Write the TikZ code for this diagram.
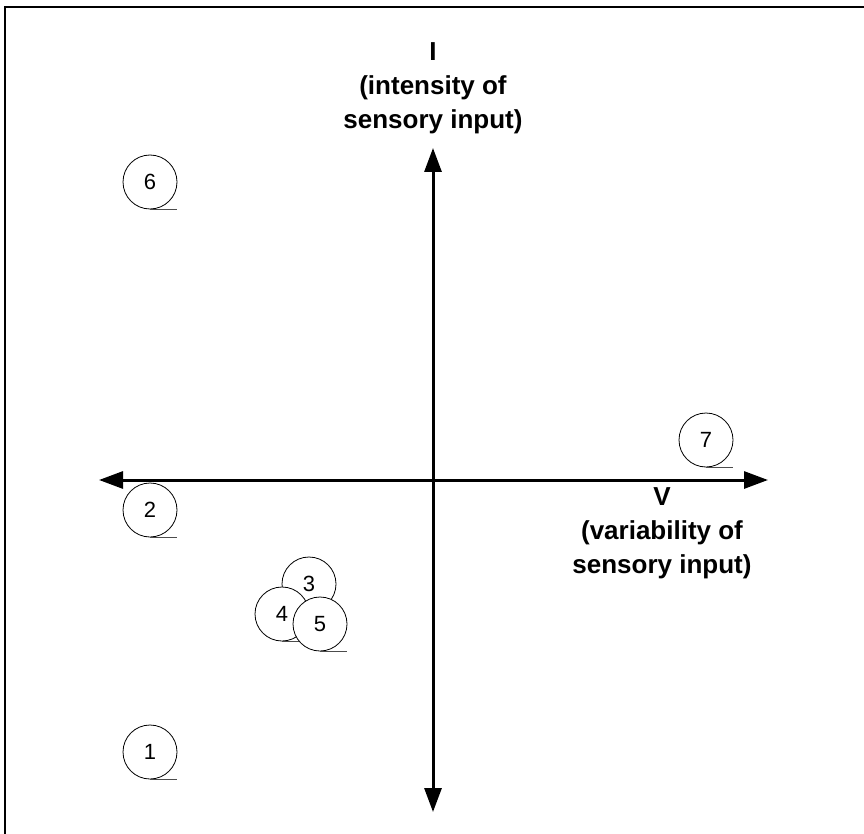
\documentclass[tikz,border=0pt]{standalone}
\usepackage{fontspec}
\setmainfont{Liberation Sans}
\usepackage{tikz}
\usetikzlibrary{arrows.meta}

\tikzset{
  axis/.style={line width=3pt, {Triangle[length=24pt,width=17pt]}-{Triangle[length=24pt,width=17pt]}},
  blob/.style={circle, draw, fill=white, line width=0.8pt, minimum size=54pt, inner sep=0pt, font=\fontsize{22}{26}\selectfont},
  tail/.style={line width=0.8pt, black!70},
  axislabel/.style={align=center, font=\bfseries\fontsize{26}{34}\selectfont}
}

\begin{document}
\begin{tikzpicture}[x=1pt, y=-1pt]
      \useasboundingbox (0,0) rectangle (864,834);
      \draw[line width=2pt] (5,834) -- (5,7) -- (864,7);
      % axes
      \coordinate (top) at (433,148);
      \coordinate (bot) at (433,812);
      \coordinate (lft) at (99,480);
      \coordinate (rgt) at (768,480);
      \draw[axis] (bot) -- (top);
      \draw[axis] (lft) -- (rgt);
      \node[axislabel] (ilab) at (433,88) {I\\(intensity of\\sensory input)};
      \node[axislabel] (vlab) at (662,533) {V\\(variability of\\sensory input)};
      % points
      \node[blob] (c6) at (150,182) {6};
      \draw[tail] (c6.south) -- ++(27,0);
      \node[blob] (c7) at (706,440) {7};
      \draw[tail] (c7.south) -- ++(27,0);
      \node[blob] (c2) at (150,510) {2};
      \draw[tail] (c2.south) -- ++(27,0);
      \node[blob] (c1) at (150,752) {1};
      \draw[tail] (c1.south) -- ++(27,0);
      \node[blob] (c3) at (309,584) {3};
      \draw[tail] (c3.south) -- ++(27,0);
      \node[blob] (c4) at (282,614) {4};
      \draw[tail] (c4.south) -- ++(27,0);
      \node[blob] (c5) at (320,624) {5};
      \draw[tail] (c5.south) -- ++(27,0);
    \end{tikzpicture}
\end{document}
